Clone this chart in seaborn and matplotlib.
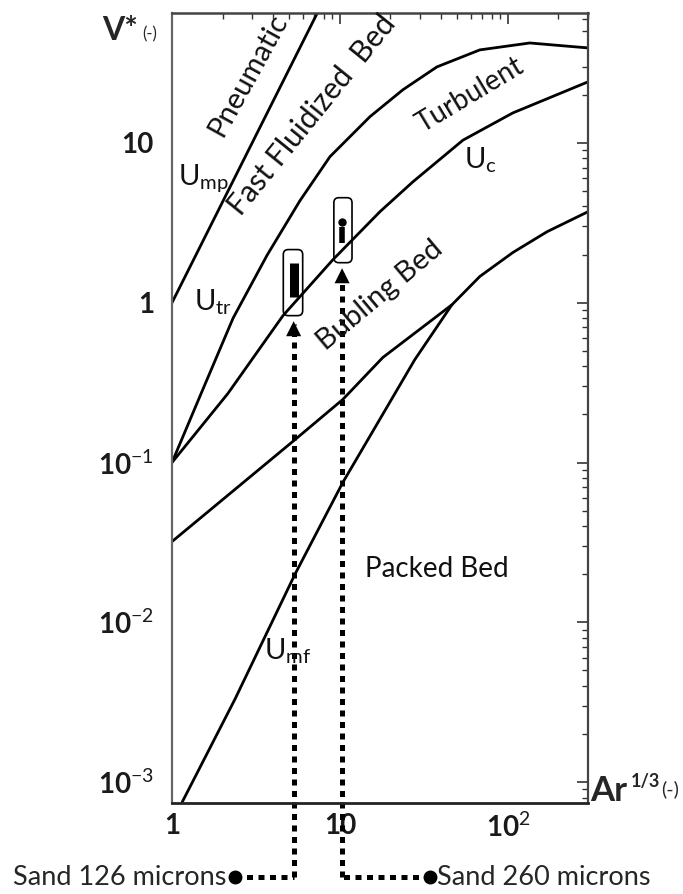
import matplotlib
matplotlib.use("Agg")
import matplotlib.pyplot as plt
import matplotlib.transforms as mtransforms
from matplotlib.patches import FancyBboxPatch
from matplotlib.ticker import FixedLocator, FixedFormatter, LogLocator, NullFormatter
import seaborn as sns

# ---------------- data ----------------
x_limits = [1, 300]
y_limits = [7.4e-4, 65]
x_ticks = [1, 10, 100]
x_tick_labels = ['1', '10', '10$^{2}$']
y_ticks = [1e-3, 1e-2, 1e-1, 1, 10]
y_tick_labels = ['10$^{-3}$', '10$^{-2}$', '10$^{-1}$', '1', '10']

# U_mp : pneumatic transport boundary
ump_x = [1.0, 8.0]
ump_y = [1.0, 78.0]
# U_tr : fast fluidized bed boundary
utr_x = [1.0, 1.49, 2.31, 3.68, 5.78, 8.72, 15.1, 23.7, 37.8, 68.1, 135, 300]
utr_y = [0.1, 0.27, 0.80, 1.98, 4.35, 8.2, 14.6, 21.5, 29.9, 38.2, 42.2, 39.3]
# U_c : turbulent boundary
uc_x = [1.0, 2.15, 4.58, 9.09, 17.3, 27.2, 54.0, 107, 300]
uc_y = [0.1, 0.27, 0.83, 1.86, 3.71, 5.71, 10.4, 15.4, 24.1]
# U_mb : bubbling boundary (joins U_mf)
umb_x = [1.0, 5.40, 10.4, 18.0, 46.4, 68.1, 107, 171, 300]
umb_y = [0.032, 0.139, 0.248, 0.454, 0.97, 1.46, 2.06, 2.78, 3.71]
# U_mf : minimum fluidization
umf_x = [1.15, 2.37, 5.40, 10.4, 27.9, 46.4]
umf_y = [7.5e-4, 0.0033, 0.020, 0.075, 0.44, 0.97]

# experimental points
sand126_x = 5.3
sand126_range = [1.08, 1.78]
sand126_box = [4.6, 6.0, 0.83, 2.15]        # x0, x1, y0, y1
sand126_marker_x = 2.37
sand260_x = 10.3
sand260_dot = 3.21
sand260_range = [2.37, 2.99]
sand260_box = [9.2, 11.8, 1.78, 4.54]
sand260_marker_x = 34.3

region_labels = ['Pneumatic', 'Fast Fluidized  Bed', 'Turbulent', 'Bubling Bed', 'Packed Bed']
region_x = [2.83, 6.81, 59.4, 17.3, 37.8]
region_y = [26.6, 15.0, 20.0, 1.11, 0.0215]
region_rot = [61, 51, 31, 40, 0]
region_size = [21, 21.5, 20, 21, 20]

curve_labels = ['U$_{\\mathrm{mp}}$', 'U$_{\\mathrm{tr}}$', 'U$_{\\mathrm{c}}$', 'U$_{\\mathrm{mf}}$']
curve_lab_x = [1.53, 1.75, 69.0, 4.90]
curve_lab_y = [6.06, 1.0, 7.83, 0.0066]

# ---------------- style ----------------
sns.set_theme(style='white')
plt.rcParams['font.family'] = ['Lato', 'DejaVu Sans']
plt.rcParams['mathtext.fontset'] = 'custom'
plt.rcParams['mathtext.rm'] = 'Lato'
plt.rcParams['mathtext.it'] = 'Lato:italic'
plt.rcParams['mathtext.bf'] = 'Lato:bold'

W, H = 683, 894
fig = plt.figure(figsize=(W / 100, H / 100), dpi=100)
fig.patch.set_facecolor('white')
ax = fig.add_axes([172 / W, 1 - 803 / H, (588 - 172) / W, (803 - 13) / H])
ax.set_facecolor('white')
ax.set_xscale('log')
ax.set_yscale('log')
ax.set_xlim(x_limits)
ax.set_ylim(y_limits)

for xs, ys in [(ump_x, ump_y), (utr_x, utr_y), (uc_x, uc_y), (umb_x, umb_y), (umf_x, umf_y)]:
    sns.lineplot(x=xs, y=ys, ax=ax, color='black', linewidth=2.0, sort=False,
                 estimator=None, legend=False)

# ticks
ax.xaxis.set_major_locator(FixedLocator(x_ticks))
ax.xaxis.set_major_formatter(FixedFormatter(x_tick_labels))
ax.yaxis.set_major_locator(FixedLocator(y_ticks))
ax.yaxis.set_major_formatter(FixedFormatter(y_tick_labels))
ax.xaxis.set_minor_locator(LogLocator(base=10, subs=range(2, 10), numticks=20))
ax.yaxis.set_minor_locator(LogLocator(base=10, subs=range(2, 10), numticks=20))
ax.xaxis.set_minor_formatter(NullFormatter())
ax.yaxis.set_minor_formatter(NullFormatter())
ax.tick_params(which='major', direction='in', length=8, width=1.2, color='#333333',
               top=True, right=True, labelsize=20)
ax.tick_params(which='minor', direction='in', length=4, width=1.0, color='#333333',
               top=True, right=True)
ax.tick_params(axis='x', which='major', pad=7)
ax.tick_params(axis='y', which='major', pad=13)
for lab in ax.get_xticklabels() + ax.get_yticklabels():
    lab.set_fontweight('bold')
    lab.set_color('#1a1a1a')
for side, c, w in [('left', '#666666', 1.6), ('right', '#444444', 1.6),
                   ('top', '#444444', 1.8), ('bottom', '#222222', 2.0)]:
    ax.spines[side].set_visible(True)
    ax.spines[side].set_color(c)
    ax.spines[side].set_linewidth(w)

# region labels
for t, x, y, r, s in zip(region_labels, region_x, region_y, region_rot, region_size):
    ax.text(x, y, t, rotation=r, rotation_mode='anchor', ha='center', va='center',
            fontsize=s, color='#111111')
for t, x, y in zip(curve_labels, curve_lab_x, curve_lab_y):
    ax.text(x, y, t, ha='center', va='center', fontsize=21, color='#111111')

# experimental bars
ax.plot([sand126_x, sand126_x], sand126_range, color='black', lw=6.5, solid_capstyle='butt')
ax.plot([sand260_x, sand260_x], sand260_range, color='black', lw=4.0, solid_capstyle='butt')
ax.plot([sand260_x], [sand260_dot], 'o', color='black', ms=5)

fig.canvas.draw()
for bx in [sand126_box, sand260_box]:
    p0 = ax.transData.transform((bx[0], bx[2]))
    p1 = ax.transData.transform((bx[1], bx[3]))
    patch = FancyBboxPatch((p0[0], p0[1]), p1[0] - p0[0], p1[1] - p0[1],
                           boxstyle='round,pad=0,rounding_size=5',
                           transform=mtransforms.IdentityTransform(),
                           facecolor='none', edgecolor='black', lw=1.2, zorder=5)
    ax.add_artist(patch)

# dotted pointers to the samples
blend = mtransforms.blended_transform_factory(ax.transData, ax.transAxes)
y_bottom = -0.094
for vx, bx, mx in [(sand126_x, sand126_box, sand126_marker_x),
                   (sand260_x, sand260_box, sand260_marker_x)]:
    top_frac = ax.transAxes.inverted().transform(ax.transData.transform((vx, bx[2])))[1]
    ax.plot([vx, vx], [y_bottom, top_frac - 0.01], transform=blend, color='black', lw=3.6,
            linestyle=(0, (1.2, 1.1)), dash_capstyle='butt', clip_on=False)
    ax.plot([mx, vx], [y_bottom, y_bottom], transform=blend, color='black', lw=3.6,
            linestyle=(0, (1.2, 1.1)), dash_capstyle='butt', clip_on=False)
    ax.plot([mx], [y_bottom], 'o', transform=blend, color='black', ms=9, clip_on=False)
    ax.annotate('', xy=(vx, bx[2]), xycoords='data', xytext=(0, -16),
                textcoords='offset pixels',
                arrowprops=dict(arrowstyle='-|>,head_length=0.9,head_width=0.45',
                                color='black', lw=0.01, shrinkA=0, shrinkB=4))

ax.annotate('Sand 126 microns', xy=(sand126_marker_x, y_bottom), xycoords=blend,
            xytext=(-9, 0), textcoords='offset pixels', ha='right', va='center',
            fontsize=19.5, annotation_clip=False)
ax.annotate('Sand 260 microns', xy=(sand260_marker_x, y_bottom), xycoords=blend,
            xytext=(7, 0), textcoords='offset pixels', ha='left', va='center',
            fontsize=19.5, annotation_clip=False)

# axis titles
fig.text(102 / W, 1 - 30 / H, 'V*', fontsize=23, fontweight='bold', va='center', ha='left')
fig.text(142 / W, 1 - 34 / H, '(-)', fontsize=12, va='center', ha='left')
fig.text(590 / W, 1 - 791 / H, 'Ar', fontsize=25, fontweight='bold', va='center', ha='left')
fig.text(631 / W, 1 - 782 / H, '1/3', fontsize=13, fontweight='bold', va='center', ha='left')
fig.text(661 / W, 1 - 789 / H, '(-)', fontsize=14, va='center', ha='left')

fig.savefig('out.png', dpi=100, facecolor='white')
